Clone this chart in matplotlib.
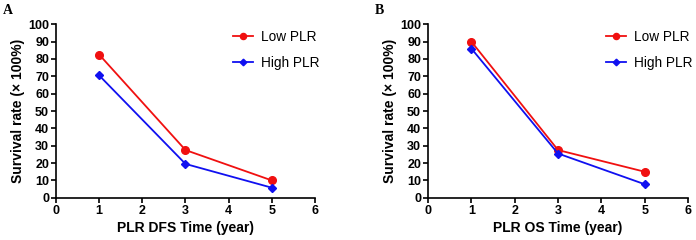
import matplotlib
matplotlib.use("Agg")
import matplotlib.pyplot as plt

plt.rcParams['font.family'] = ['Liberation Sans', 'DejaVu Sans']

years = [1, 3, 5]
dfs_low = [82.5, 27.5, 10.0]
dfs_high = [70.5, 19.5, 5.8]
os_low = [90.0, 27.5, 15.0]
os_high = [86.0, 25.5, 7.8]

panels = [
    ("A", "PLR DFS Time (year)", dfs_low, dfs_high, [0.0805, 0.176, 0.372, 0.723]),
    ("B", "PLR OS Time (year)", os_low, os_high, [0.615, 0.176, 0.3735, 0.723]),
]

fig = plt.figure(figsize=(6.96, 2.40), dpi=100)

for letter, xlabel, low, high, rect in panels:
    ax = fig.add_axes(rect)
    ax.plot(years, low, color='#f01010', marker='o', markersize=5.5, lw=1.3,
            label='Low PLR', clip_on=False)
    ax.plot(years, high, color='#1010f0', marker='D', markersize=4.2, lw=1.3,
            label='High PLR', clip_on=False)
    ax.set_xlim(0, 6)
    ax.set_ylim(0, 100)
    ax.set_xticks(range(0, 7))
    ax.set_yticks(range(0, 101, 10))
    for s in ['top', 'right']:
        ax.spines[s].set_visible(False)
    for s in ['left', 'bottom']:
        ax.spines[s].set_linewidth(1.2)
    ax.tick_params(direction='out', length=3.5, width=1.2, labelsize=9, pad=1.5)
    for lab in ax.get_xticklabels() + ax.get_yticklabels():
        lab.set_fontweight('bold')
    ax.set_xlabel(xlabel, fontsize=10, fontweight='bold', labelpad=3)
    ax.set_ylabel('Survival rate (× 100%)', fontsize=10, fontweight='bold', labelpad=2)
    ax.legend(loc='upper left', frameon=False, fontsize=9.8, handlelength=1.5,
              handletextpad=0.6, markerscale=0.8, borderpad=0, borderaxespad=0,
              bbox_to_anchor=(0.683, 0.967), labelspacing=0.85)
    fig.text(rect[0] - 0.076, 0.985, letter, fontsize=10, fontweight='bold',
             family=['Liberation Serif', 'DejaVu Serif'], va='top')

plt.savefig('out.png', dpi=100)
plt.close()
